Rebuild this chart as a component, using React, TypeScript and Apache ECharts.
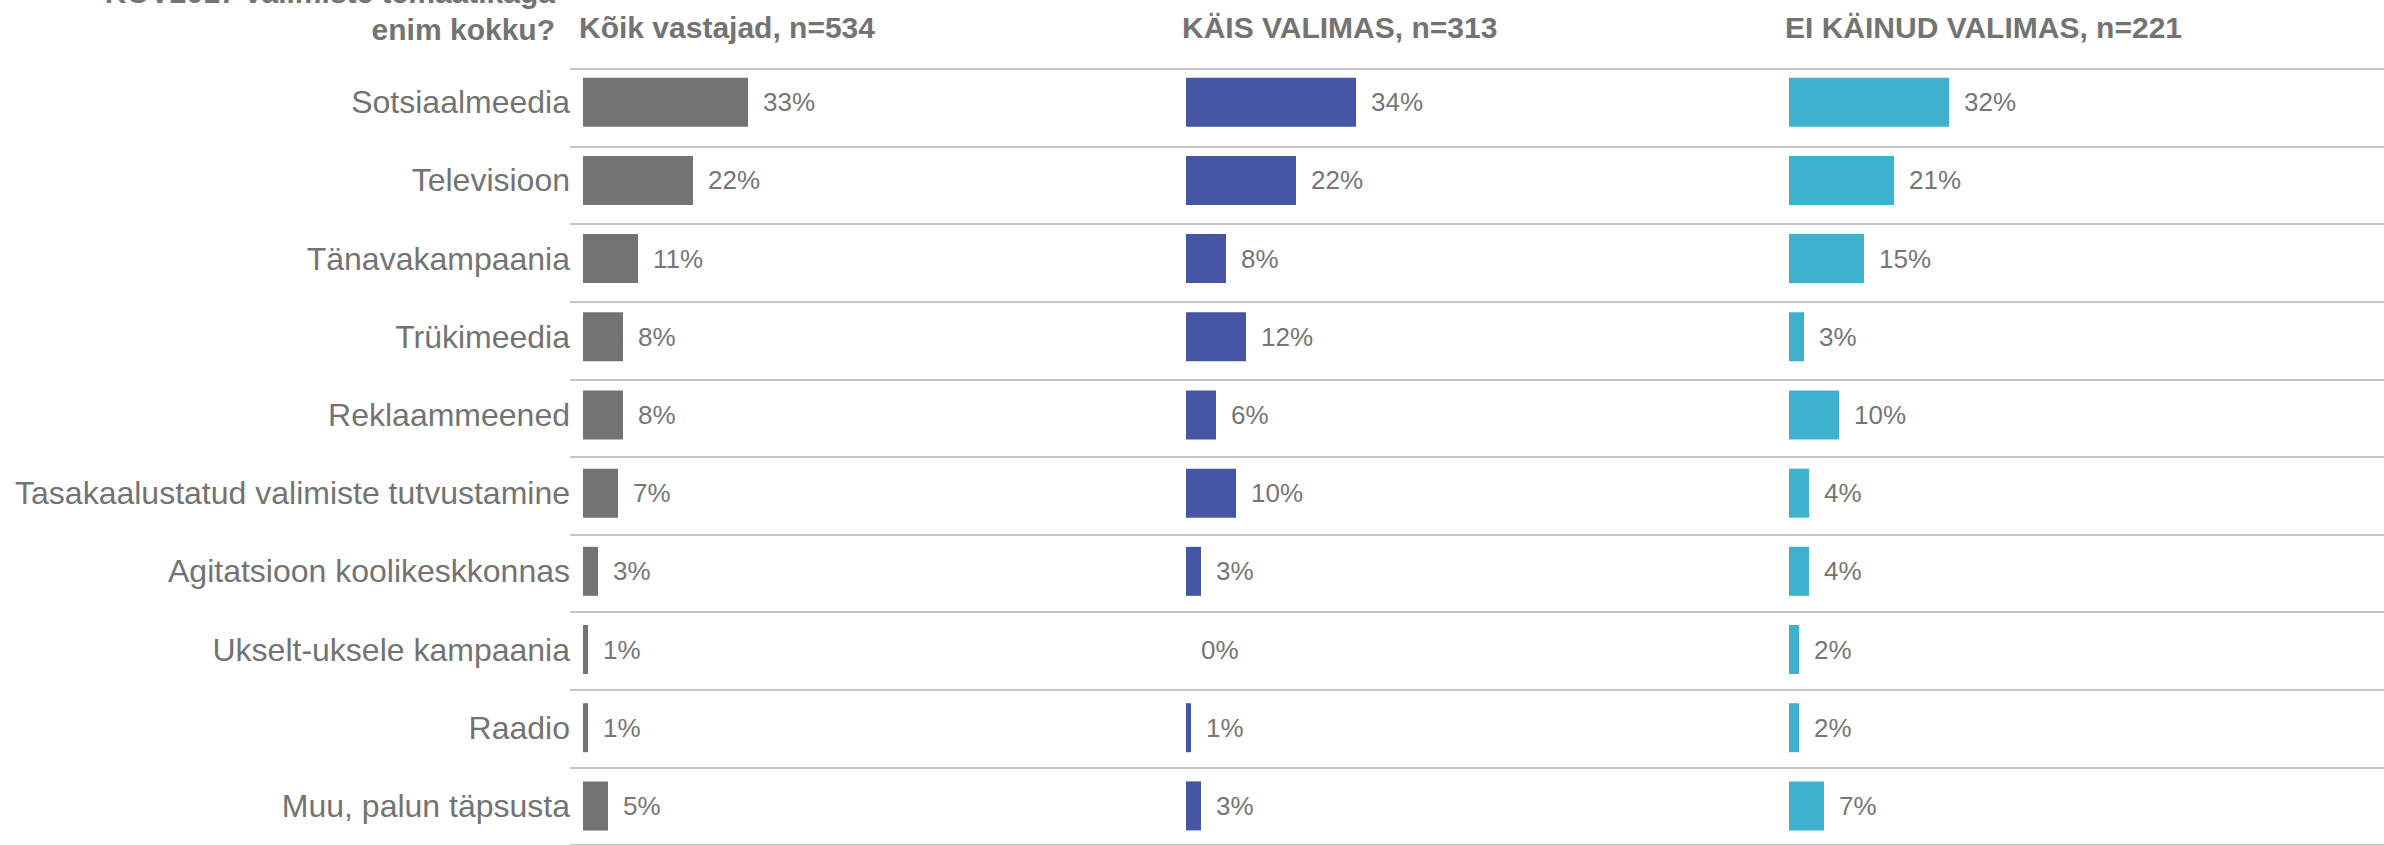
import React, { useEffect, useRef } from "react";
import * as echarts from "echarts";

const categories = [
  "Sotsiaalmeedia",
  "Televisioon",
  "Tänavakampaania",
  "Trükimeedia",
  "Reklaammeened",
  "Tasakaalustatud valimiste tutvustamine",
  "Agitatsioon koolikeskkonnas",
  "Ukselt-uksele kampaania",
  "Raadio",
  "Muu, palun täpsusta",
];
const allValues = [33, 22, 11, 8, 8, 7, 3, 1, 1, 5];
const votedValues = [34, 22, 8, 12, 6, 10, 3, 0, 1, 3];
const notVotedValues = [32, 21, 15, 3, 10, 4, 4, 2, 2, 7];
const panelTitles = ["Kõik vastajad, n=534", "KÄIS VALIMAS, n=313", "EI KÄINUD VALIMAS, n=221"];
const questionLines = ["KOV2017 valimiste temaatikaga", "enim kokku?"];
const separatorTicks = [0, 10];

const FONT = "'Liberation Sans', Arial, Helvetica, sans-serif";
const barColors = ["#737373", "#4755A5", "#3EB1CE"];
const textGray = "#737373";

export default function App() {
  const ref = useRef<HTMLDivElement>(null);

  useEffect(() => {
    if (!ref.current) return;
    const chart = echarts.init(ref.current, undefined, { renderer: "svg" });
    const seriesValues = [allValues, votedValues, notVotedValues];
    const panelLeft = [583, 1186, 1789];
    const bandTop = 63.1;
    const bandHeight = 794;

    const grids: any[] = [
      { left: 570, right: 0, top: 69, height: 782, containLabel: false },
    ];
    const xAxes: any[] = [
      { gridIndex: 0, type: "value", min: 0, max: 1, show: false },
    ];
    const yAxes: any[] = [
      {
        gridIndex: 0,
        type: "value",
        min: separatorTicks[0],
        max: separatorTicks[1],
        interval: 1,
        inverse: true,
        axisLine: { show: false },
        axisTick: { show: false },
        axisLabel: { show: false },
        splitLine: { show: true, lineStyle: { color: "#c6c6c6", width: 2 } },
      },
    ];
    const series: any[] = [
      { type: "scatter", xAxisIndex: 0, yAxisIndex: 0, data: [], silent: true },
    ];

    seriesValues.forEach((vals, i) => {
      grids.push({ left: panelLeft[i], width: 500, top: bandTop, height: bandHeight });
      xAxes.push({ gridIndex: i + 1, type: "value", min: 0, max: 100, show: false });
      yAxes.push({
        gridIndex: i + 1,
        type: "category",
        data: categories,
        inverse: true,
        axisLine: { show: false },
        axisTick: { show: false },
        splitLine: { show: false },
        axisLabel: {
          show: i === 0,
          fontSize: 32,
          color: textGray,
          fontFamily: FONT,
          margin: 13,
        },
      });
      series.push({
        type: "bar",
        xAxisIndex: i + 1,
        yAxisIndex: i + 1,
        data: vals,
        barWidth: 49,
        itemStyle: { color: barColors[i] },
        label: {
          show: true,
          position: "right",
          distance: 15,
          formatter: "{c}%",
          fontSize: 26,
          color: "#767676",
          fontFamily: FONT,
        },
      });
    });

    const graphics: any[] = [
      {
        type: "text",
        x: 555,
        y: -8,
        style: {
          text: questionLines[0],
          align: "right",
          verticalAlign: "middle",
          fontSize: 30,
          fontWeight: "bold",
          fontFamily: FONT,
          fill: textGray,
        },
      },
      {
        type: "text",
        x: 555,
        y: 29,
        style: {
          text: questionLines[1],
          align: "right",
          verticalAlign: "middle",
          fontSize: 30,
          fontWeight: "bold",
          fontFamily: FONT,
          fill: textGray,
        },
      },
    ];
    panelTitles.forEach((t, i) => {
      graphics.push({
        type: "text",
        x: panelLeft[i] - 4,
        y: 27,
        style: {
          text: t,
          align: "left",
          verticalAlign: "middle",
          fontSize: 30,
          fontWeight: "bold",
          fontFamily: FONT,
          fill: textGray,
        },
      });
    });

    chart.setOption({
      animation: false,
      backgroundColor: "#ffffff",
      grid: grids,
      xAxis: xAxes,
      yAxis: yAxes,
      series,
      graphic: graphics,
    });
    return () => chart.dispose();
  }, []);

  return (
    <div
      ref={ref}
      style={{ position: "absolute", left: 0, top: 0, width: 2384, height: 845 }}
    />
  );
}
